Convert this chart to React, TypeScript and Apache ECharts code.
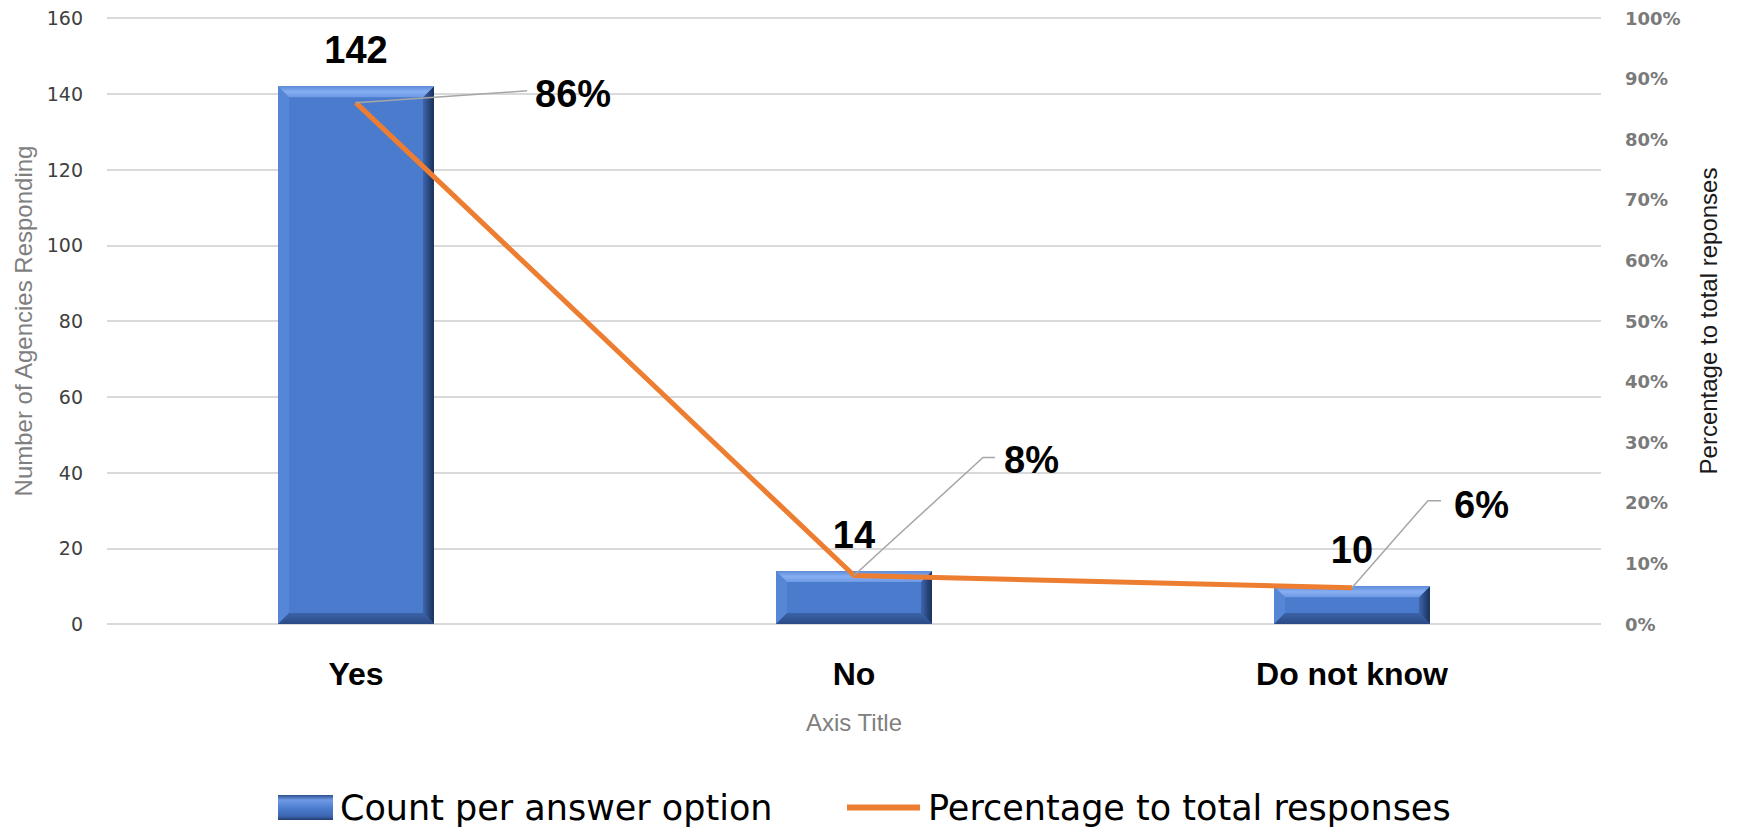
import React, { useEffect, useRef } from 'react';
import * as echarts from 'echarts';

// ---- data ----
const categories = ['Yes', 'No', 'Do not know'];
const counts = [142, 14, 10];
const shares = [0.86, 0.08, 0.06];
const countAxisMin = 0;
const countAxisMax = 160;
const countAxisStep = 20;
const shareAxisMin = 0;
const shareAxisMax = 1;
const shareAxisStep = 0.1;
const seriesNames = ['Count per answer option', 'Percentage to total responses'];
const leftTitle = 'Number of Agencies Responding';
const rightTitle = 'Percentage to total reponses';
const bottomTitle = 'Axis Title';

// ---- layout / style (pixels relative to each line point) ----
const shareLabelOffsets = [
  [179, -9],
  [150, -116],
  [102, -83],
];
const leaderShapes = [
  [[0, 0], [171, -12]],
  [[0, 0], [129, -118], [141, -118]],
  [[0, 0], [76, -87], [89, -87]],
];
const BAR_RATIO = 0.313;
const BAR_COLOR = '#4a7bcd';
const LINE_COLOR = '#ED7D31';
const GRID_COLOR = '#d9d9d9';

export default function App() {
  const ref = useRef<HTMLDivElement>(null);

  useEffect(() => {
    if (!ref.current) return;
    const chart = echarts.init(ref.current, null, { renderer: 'svg' });

    const lg = (x0: number, y0: number, x1: number, y1: number, stops: [number, string][]) =>
      new echarts.graphic.LinearGradient(x0, y0, x1, y1, stops.map(([offset, color]) => ({ offset, color })));

    const option: any = {
      animation: false,
      backgroundColor: '#ffffff',
      grid: { left: 107, right: 136, top: 18, bottom: 205, containLabel: false },
      legend: [
        {
          data: [
            {
              name: seriesNames[0],
              icon: 'rect',
              itemStyle: {
                color: lg(0, 0, 0, 1, [
                  [0, '#2d4f8e'],
                  [0.2, '#6f9be6'],
                  [0.55, '#4a7bcd'],
                  [0.85, '#3d66b0'],
                  [1, '#223d70'],
                ]),
              },
            },
          ],
          left: 273,
          top: 785,
          itemWidth: 55,
          itemHeight: 25,
          textStyle: { fontFamily: 'DejaVu Sans', fontSize: 35, color: '#000', padding: [0, 0, 0, 2] },
          selectedMode: false,
        },
        {
          data: [{ name: seriesNames[1], icon: 'rect', itemStyle: { color: LINE_COLOR } }],
          left: 842,
          top: 785,
          itemWidth: 73,
          itemHeight: 6,
          textStyle: { fontFamily: 'DejaVu Sans', fontSize: 35, color: '#000', padding: [0, 0, 0, 3] },
          selectedMode: false,
        },
      ],
      xAxis: {
        type: 'category',
        data: categories,
        axisLine: { show: false },
        axisTick: { show: false },
        axisLabel: {
          margin: 34,
          fontFamily: 'Liberation Sans',
          fontWeight: 'bold',
          fontSize: 32,
          color: '#000',
        },
        name: bottomTitle,
        nameLocation: 'middle',
        nameGap: 86,
        nameTextStyle: { fontFamily: 'Liberation Sans', fontSize: 24, color: '#808080' },
      },
      yAxis: [
        {
          type: 'value',
          min: countAxisMin,
          max: countAxisMax,
          interval: countAxisStep,
          axisLine: { show: false },
          axisTick: { show: false },
          splitLine: { lineStyle: { color: GRID_COLOR, width: 2 } },
          axisLabel: { margin: 24, fontFamily: 'DejaVu Sans', fontSize: 19, color: '#404040' },
          name: leftTitle,
          nameLocation: 'middle',
          nameGap: 72,
          nameTextStyle: { fontFamily: 'Liberation Sans', fontSize: 24, color: '#7f7f7f' },
        },
        {
          type: 'value',
          min: shareAxisMin,
          max: shareAxisMax,
          interval: shareAxisStep,
          position: 'right',
          axisLine: { show: false },
          axisTick: { show: false },
          splitLine: { show: false },
          axisLabel: {
            margin: 24,
            fontFamily: 'DejaVu Sans',
            fontSize: 18,
            fontWeight: 'bold',
            color: '#7a7a7a',
            formatter: (v: number) => Math.round(v * 100) + '%',
          },
          name: rightTitle,
          nameLocation: 'middle',
          nameGap: 95,
          nameTextStyle: { fontFamily: 'Liberation Sans', fontSize: 24, color: '#1a1a1a' },
        },
      ],
      series: [
        {
          name: seriesNames[0],
          type: 'bar',
          data: counts,
          barWidth: BAR_RATIO * 100 + '%',
          itemStyle: { color: BAR_COLOR },
          z: 1,
          label: {
            show: true,
            position: 'top',
            distance: 17,
            fontFamily: 'Liberation Sans',
            fontWeight: 'bold',
            fontSize: 38,
            color: '#000',
          },
        },
        {
          name: seriesNames[1],
          type: 'line',
          yAxisIndex: 1,
          z: 5,
          symbol: 'circle',
          symbolSize: 2,
          showSymbol: true,
          itemStyle: { color: LINE_COLOR },
          lineStyle: { color: LINE_COLOR, width: 5 },
          data: shares.map((v, i) => ({ value: v, label: { offset: shareLabelOffsets[i] } })),
          label: {
            show: true,
            position: 'inside',
            align: 'left',
            verticalAlign: 'middle',
            fontFamily: 'Liberation Sans',
            fontWeight: 'bold',
            fontSize: 38,
            color: '#000',
            formatter: (p: any) => Math.round(p.value * 100) + '%',
          },
        },
      ],
    };

    chart.setOption(option);

    // bevel edges of the bars, placed through the chart's own scales
    const bevels: any[] = [];
    const c0 = chart.convertToPixel({ seriesIndex: 0 }, [0, 0]) as number[];
    const c1 = chart.convertToPixel({ seriesIndex: 0 }, [1, 0]) as number[];
    const bw = (c1[0] - c0[0]) * BAR_RATIO;
    counts.forEach((v, i) => {
      const top = chart.convertToPixel({ seriesIndex: 0 }, [i, v]) as number[];
      const base = chart.convertToPixel({ seriesIndex: 0 }, [i, 0]) as number[];
      const x0 = top[0] - bw / 2;
      const x1 = top[0] + bw / 2;
      const y0 = top[1];
      const y1 = base[1];
      const b = Math.min(11, (y1 - y0) / 3);
      const poly = (points: number[][], fill: any) => ({
        type: 'polygon',
        silent: true,
        z: 2,
        shape: { points },
        style: { fill },
      });
      bevels.push(
        poly([[x0, y0], [x0 + b, y0 + b], [x0 + b, y1 - b], [x0, y1]], '#5686d6'),
        poly([[x1, y0], [x1, y1], [x1 - b, y1 - b], [x1 - b, y0 + b]], lg(0, 0, 1, 0, [[0, '#3e66ad'], [1, '#1a2f58']])),
        poly([[x0, y1], [x0 + b, y1 - b], [x1 - b, y1 - b], [x1, y1]], lg(0, 0, 0, 1, [[0, '#3c63a8'], [1, '#2a4a85']])),
        poly([[x0, y0], [x1, y0], [x1 - b, y0 + b], [x0 + b, y0 + b]], lg(0, 0, 0, 1, [[0, '#5d8ad8'], [0.5, '#86aef2'], [1, '#6e99e4']]))
      );
    });

    const leaders = shares.map((v, i) => {
      const p = chart.convertToPixel({ seriesIndex: 1 }, [i, v]) as number[];
      return {
        type: 'polyline',
        silent: true,
        z: 6,
        shape: { points: leaderShapes[i].map(([dx, dy]) => [p[0] + dx, p[1] + dy]) },
        style: { stroke: '#a6a6a6', lineWidth: 1.5, fill: null },
      };
    });
    chart.setOption({ graphic: [...bevels, ...leaders] });

    return () => chart.dispose();
  }, []);

  return (
    <div
      ref={ref}
      style={{ position: 'absolute', left: 0, top: 0, width: 1737, height: 829, background: '#fff' }}
    />
  );
}
